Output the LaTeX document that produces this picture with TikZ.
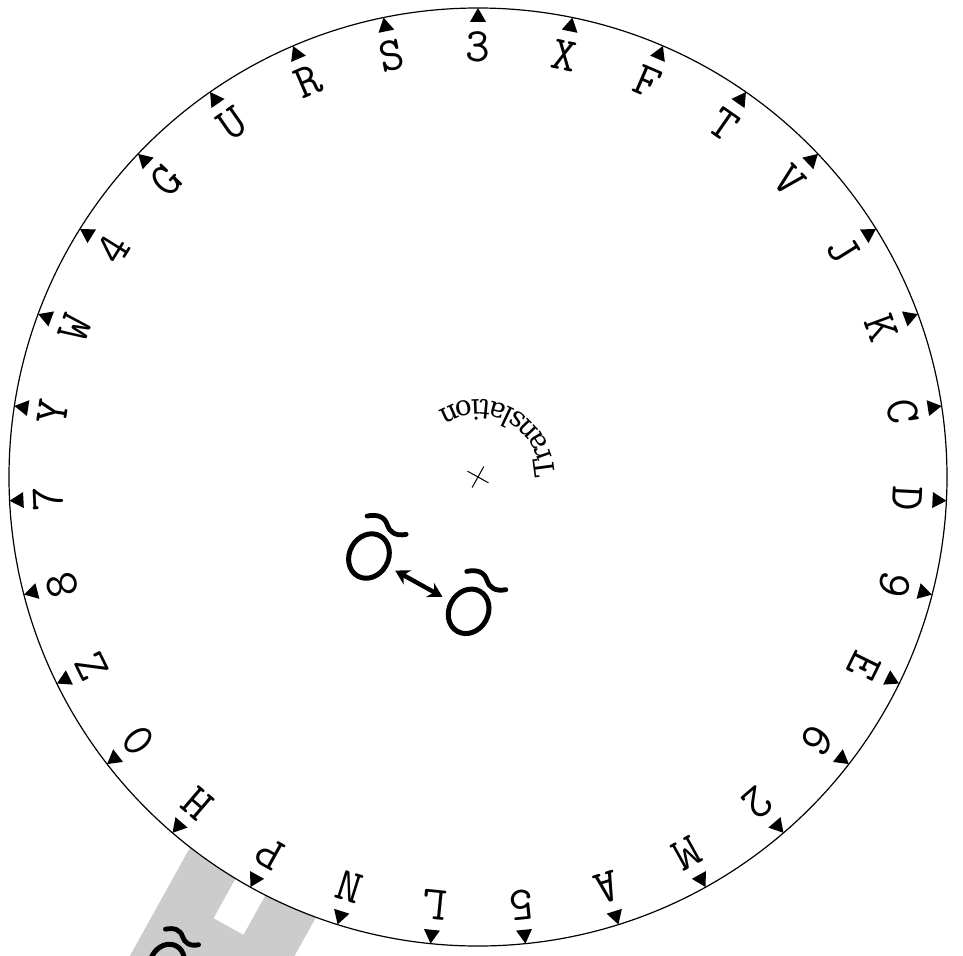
\documentclass[tikz,border=0pt]{standalone}
\usepackage{fontspec}
\newfontfamily\arcfont{DejaVu Serif}
\usetikzlibrary{arrows.meta,shapes.geometric,decorations.text}
\definecolor{bandgray}{RGB}{204,204,204}

\begin{document}
\begin{tikzpicture}[x=0.5pt, y=0.5pt, >=Stealth,
  rimletter/.style={font=\ttfamily\fontsize{24}{24}\selectfont, inner sep=0pt},
  oring/.style={draw, ellipse, line width=2.5pt, inner sep=0pt,
                minimum width=19.5pt, minimum height=23pt},
  tilde/.pic={\draw[line width=2.4pt, line cap=round] (-21,34) .. controls (-13,41) and (-5,42) .. (1,36)
              .. controls (6,31) and (14,30) .. (22,37);}]
\clip (-478,-478) rectangle (485,477);
% strip under the disc
\begin{scope}[rotate=-29.03, transform shape]
\fill[bandgray] (-72,-300) rectangle (72,-800);
\fill[white] (-17,-450) rectangle (17,-514);
\node[oring, scale=0.85] (ostrip) at (-36,-576) {};
\pic[scale=0.85] at (ostrip.center) {tilde};
\end{scope}
% disc with marks and letters
\draw[line width=0.6pt, fill=white] (0,0) circle[radius=469];
\foreach \ch [count=\i from 0] in {3,X,F,T,V,J,K,C,D,9,E,6,2,M,A,5,L,N,P,H,0,Z,8,7,Y,W,4,G,U,R,S}{
  \pgfmathsetmacro\ang{90-\i*360/31}
  \fill (\ang:469) -- ++(\ang+150:16) -- ++(\ang-90:16) -- cycle;
  \node[rimletter, rotate=\ang-90] (l\i) at (\ang:430) {\ch};
}
% label round the hub
\path[decorate, decoration={text along path, text align=center,
      text={|\arcfont\fontsize{14}{14}\selectfont|Translation}}]
  (0.97:77) arc[start angle=0.97, end angle=120.97, radius=77];
% hub and key
\begin{scope}[rotate=-29.03, transform shape]
\coordinate (hub) at (0,0);
\draw[line width=0.5pt] (-12,0) -- (12,0) (0,-12) -- (0,12);
\node[oring] (oleft) at (-57,-122) {};
\node[oring] (oright) at (57,-122) {};
\pic at (oleft.center) {tilde};
\pic at (oright.center) {tilde};
\draw[{Stealth[length=7pt,width=8pt]}-{Stealth[length=7pt,width=8pt]}, line width=2.2pt,
      shorten <=4pt, shorten >=4pt] (oleft) -- (oright);
\end{scope}
\end{tikzpicture}
\end{document}
